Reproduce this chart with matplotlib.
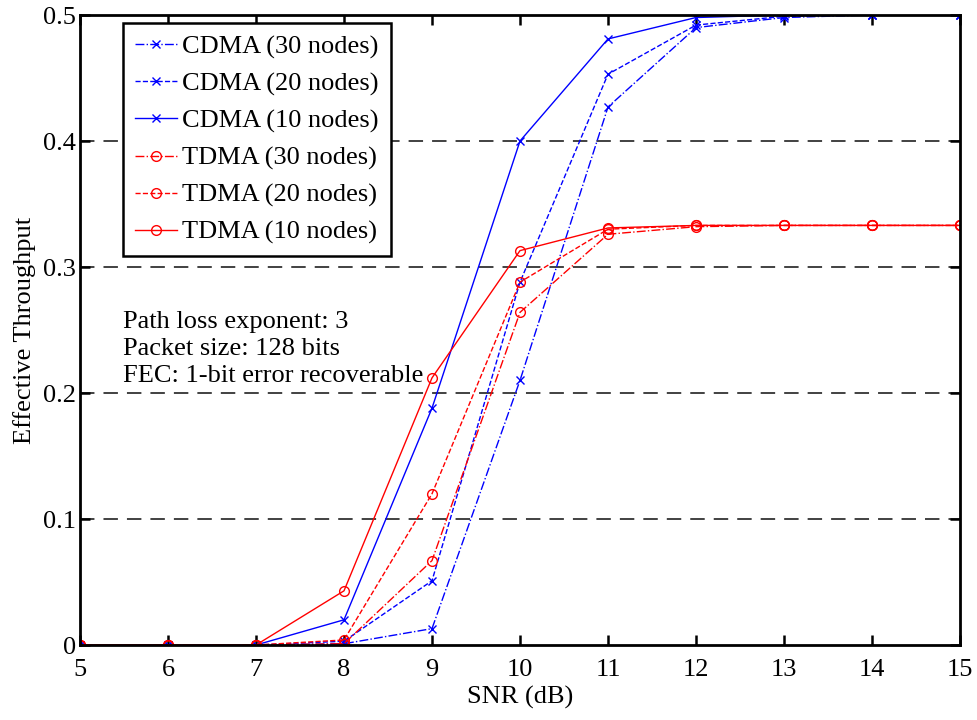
import matplotlib
matplotlib.use("Agg")
import matplotlib.pyplot as plt

snr = [5, 6, 7, 8, 9, 10, 11, 12, 13, 14, 15]
cdma30 = [0, 0, 0, 0.001, 0.013, 0.210, 0.427, 0.490, 0.498, 0.500, 0.500]
cdma20 = [0, 0, 0, 0.003, 0.051, 0.288, 0.453, 0.492, 0.499, 0.500, 0.500]
cdma10 = [0, 0, 0, 0.020, 0.188, 0.400, 0.481, 0.498, 0.500, 0.500, 0.500]
tdma30 = [0, 0, 0, 0.001, 0.067, 0.264, 0.326, 0.332, 0.333, 0.333, 0.333]
tdma20 = [0, 0, 0, 0.004, 0.120, 0.288, 0.330, 0.333, 0.333, 0.333, 0.333]
tdma10 = [0, 0, 0, 0.043, 0.212, 0.313, 0.331, 0.333, 0.333, 0.333, 0.333]
labels = ["CDMA (30 nodes)", "CDMA (20 nodes)", "CDMA (10 nodes)",
          "TDMA (30 nodes)", "TDMA (20 nodes)", "TDMA (10 nodes)"]
notes = ["Path loss exponent: 3", "Packet size: 128 bits", "FEC: 1-bit error recoverable"]

plt.rcParams['font.family'] = ['Liberation Serif', 'DejaVu Serif']
FS = 19
fig = plt.figure(figsize=(9.77, 7.2), dpi=100)
ax = fig.add_axes([80/977, 75/720, 880/977, 630/720])

series = [cdma30, cdma20, cdma10, tdma30, tdma20, tdma10]
colors = ['#0000ff'] * 3 + ['#ff0000'] * 3
styles = ['-.', '--', '-'] * 2
markers = ['x'] * 3 + ['o'] * 3
for ys, c, ls, m, lb in zip(series, colors, styles, markers, labels):
    ax.plot(snr, ys, color=c, linestyle=ls, marker=m, markersize=7 if m == 'o' else 6,
            markerfacecolor='none', markeredgecolor=c, linewidth=1.0, label=lb)

ax.set_xlim(5, 15)
ax.set_ylim(0, 0.5)
ax.set_xticks(range(5, 16))
ax.set_yticks([0, 0.1, 0.2, 0.3, 0.4, 0.5])
ax.set_yticklabels(['0', '0.1', '0.2', '0.3', '0.4', '0.5'])
for y in [0.1, 0.2, 0.3, 0.4]:
    ax.axhline(y, color='#333333', linestyle=(0, (8, 5)), linewidth=1.3, zorder=0)
ax.tick_params(direction='in', top=True, right=True, length=7, width=1.8, labelsize=FS)
ax.tick_params(axis='x', pad=10)
ax.tick_params(axis='y', pad=3)
for s in ax.spines.values():
    s.set_linewidth(2)
ax.set_xlabel('SNR (dB)', fontsize=FS)
ax.set_ylabel('Effective Throughput', fontsize=FS)
ax.yaxis.set_label_coords(-0.05, 0.5)
ax.xaxis.set_label_coords(0.5, -0.065)

leg = ax.legend(loc='upper left', bbox_to_anchor=(0.049, 0.987), fontsize=FS,
                frameon=True, fancybox=False, edgecolor='black', framealpha=1,
                handlelength=1.6, labelspacing=0.5, borderpad=0.45, handletextpad=0.2,
                borderaxespad=0)
leg.get_frame().set_linewidth(1.8)

for i, t in enumerate(notes):
    ax.text(0.049, 0.513 - i * 0.043, t, transform=ax.transAxes, fontsize=FS,
            va='center', ha='left')

fig.savefig('out.png', dpi=100)
